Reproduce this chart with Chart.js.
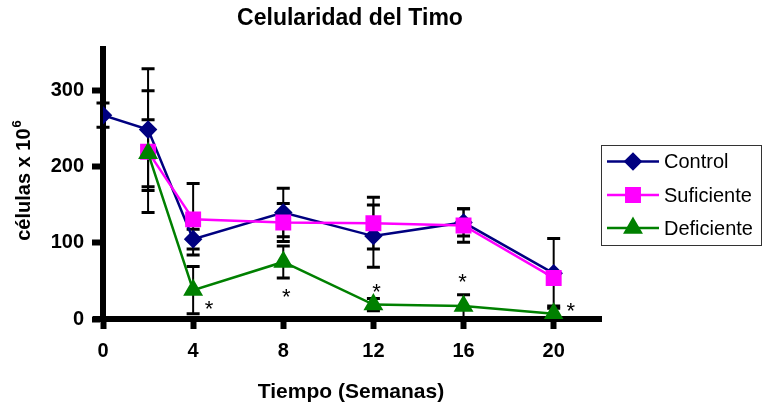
<!DOCTYPE html>
<html>
<head>
<meta charset="utf-8">
<script src="https://cdn.jsdelivr.net/npm/chart.js@4/dist/chart.umd.min.js"></script>
<style>
  html, body { margin: 0; padding: 0; background: #ffffff; }
  #wrap { position: relative; width: 762px; height: 408px; }
</style>
</head>
<body>
<div id="wrap"><canvas id="c"></canvas></div>
<script>
// Thymus cellularity (cells x 10^6) over time, by diet group, with SD bars
const weeks = [0, 2, 4, 8, 12, 16, 20];
const xTickValues = [0, 4, 8, 12, 16, 20];
const yTickValues = [0, 100, 200, 300];

const controlMean = [268, 249, 105, 140, 109, 127, 60];
const controlErr  = [16, 80, 13, 32, 41, 18, 46];
const suficienteMean = [null, 220, 131, 127, 126, 123, 54];
const suficienteErr  = [null, 80, 47, 25, 34, 22, 8];
const deficienteMean = [null, 218, 38, 75, 19, 17, 7];
const deficienteErr  = [null, 44, 31, 21, 8, 15, 10];

// weeks where Deficiente differs significantly (marked with *)
const significantWeeks = [4, 8, 12, 16, 20];

const seriesNames = ['Control', 'Suficiente', 'Deficiente'];

const FONT = '"Liberation Sans", Arial, Helvetica, sans-serif';

function toPoints(values) {
  return weeks.map((w, i) => ({ x: w, y: values[i] }));
}

// where each asterisk sits relative to its Deficiente point
const starOffsets = [[16, 15], [3, 31], [3, -17], [-1, -28], [17, -7]];

const errorBarsPlugin = {
  id: 'errorBars',
  beforeDatasetsDraw(chart) {
    const { ctx, scales: { x, y } } = chart;
    ctx.save();
    ctx.strokeStyle = '#000000';
    chart.data.datasets.forEach(ds => {
      const errs = ds.errors;
      ds.data.forEach((p, i) => {
        if (p.y == null || errs[i] == null) return;
        const px = x.getPixelForValue(p.x);
        const top = y.getPixelForValue(p.y + errs[i]);
        const bot = y.getPixelForValue(Math.max(0, p.y - errs[i]));
        ctx.lineWidth = 2;
        ctx.beginPath();
        ctx.moveTo(px, top);
        ctx.lineTo(px, bot);
        ctx.stroke();
        ctx.lineWidth = 3;
        ctx.beginPath();
        ctx.moveTo(px - 6.5, top); ctx.lineTo(px + 6.5, top);
        ctx.moveTo(px - 6.5, bot); ctx.lineTo(px + 6.5, bot);
        ctx.stroke();
      });
    });
    ctx.restore();
  }
};

const decorPlugin = {
  id: 'decor',
  afterDraw(chart) {
    const { ctx, scales: { x, y }, chartArea } = chart;
    ctx.save();
    ctx.fillStyle = '#000000';

    // x axis line continues a little past the y axis on the left
    ctx.fillRect(chartArea.left - 10, chartArea.bottom - 3, 8, 6);

    // title
    ctx.font = 'bold 23px ' + FONT;
    ctx.textAlign = 'center';
    ctx.textBaseline = 'alphabetic';
    ctx.fillText('Celularidad del Timo', 350, 25);

    // x axis title
    ctx.font = 'bold 21px ' + FONT;
    ctx.fillText('Tiempo (Semanas)', 351, 398);

    // y axis title with superscript
    ctx.save();
    ctx.translate(30, 181);
    ctx.rotate(-Math.PI / 2);
    ctx.font = 'bold 20px ' + FONT;
    const main = 'células x 10';
    const wMain = ctx.measureText(main).width;
    ctx.font = 'bold 13px ' + FONT;
    const wSup = ctx.measureText('6').width;
    const startX = -(wMain + wSup) / 2;
    ctx.textAlign = 'left';
    ctx.font = 'bold 20px ' + FONT;
    ctx.fillText(main, startX, 0);
    ctx.font = 'bold 13px ' + FONT;
    ctx.fillText('6', startX + wMain + 1, -9);
    ctx.restore();

    // significance asterisks
    const defDs = chart.data.datasets[2];
    ctx.font = '22px ' + FONT;
    ctx.textAlign = 'center';
    const m = ctx.measureText('*');
    const asc = m.actualBoundingBoxAscent, desc = m.actualBoundingBoxDescent;
    significantWeeks.forEach((w, k) => {
      const p = defDs.data.find(d => d.x === w);
      if (!p) return;
      const cx = x.getPixelForValue(w) + starOffsets[k][0];
      const cy = y.getPixelForValue(p.y) + starOffsets[k][1];
      ctx.fillText('*', cx, cy + (asc - desc) / 2);
    });

    // legend
    const lx = 601, ly = 145, lw = 160, lh = 100;
    ctx.strokeStyle = '#333333';
    ctx.lineWidth = 1;
    ctx.strokeRect(lx + 0.5, ly + 0.5, lw, lh);
    const rows = [161.5, 195, 228];
    chart.data.datasets.forEach((ds, i) => {
      const ry = rows[i];
      ctx.strokeStyle = ds.borderColor;
      ctx.lineWidth = 2.5;
      ctx.beginPath();
      ctx.moveTo(607, ry);
      ctx.lineTo(659, ry);
      ctx.stroke();
      ctx.fillStyle = ds.pointBackgroundColor;
      ctx.strokeStyle = ds.pointBorderColor;
      Chart.helpers.drawPoint(ctx, {
        pointStyle: ds.pointStyle, radius: ds.pointRadius, borderWidth: 1, rotation: 0
      }, 633, ry);
      ctx.fillStyle = '#000000';
      ctx.font = '20px ' + FONT;
      ctx.textAlign = 'left';
      ctx.textBaseline = 'middle';
      ctx.fillText(seriesNames[i], 664, ry + 1);
    });
    ctx.restore();
  }
};

const axisCommon = {
  border: { display: true, color: '#000000', width: 6 },
  grid: { display: true, drawOnChartArea: false, drawTicks: true, color: '#000000', tickColor: '#000000', tickWidth: 6 },
};

new Chart(document.getElementById('c'), {
  type: 'line',
  data: {
    datasets: [
      {
        label: seriesNames[0], data: toPoints(controlMean), errors: controlErr,
        borderColor: '#000080', backgroundColor: '#000080',
        pointBackgroundColor: '#000080', pointBorderColor: '#000080',
        pointStyle: 'rectRot', pointRadius: 7.5, borderWidth: 2.5, order: 2
      },
      {
        label: seriesNames[1], data: toPoints(suficienteMean), errors: suficienteErr,
        borderColor: '#FF00FF', backgroundColor: '#FF00FF',
        pointBackgroundColor: '#FF00FF', pointBorderColor: '#FF00FF',
        pointStyle: 'rect', pointRadius: 9.5, borderWidth: 2.5, order: 1
      },
      {
        label: seriesNames[2], data: toPoints(deficienteMean), errors: deficienteErr,
        borderColor: '#008000', backgroundColor: '#008000',
        pointBackgroundColor: '#008000', pointBorderColor: '#008000',
        pointStyle: 'triangle', pointRadius: 9, borderWidth: 2.5, order: 0
      }
    ]
  },
  options: {
    responsive: true,
    maintainAspectRatio: false,
    animation: false,
    devicePixelRatio: 1,
    layout: { padding: { top: 49, right: 161, left: 0, bottom: 0 } },
    plugins: { legend: { display: false }, title: { display: false }, tooltip: { enabled: false } },
    elements: { line: { tension: 0 }, point: { borderWidth: 1 } },
    scales: {
      x: {
        type: 'linear', min: 0, max: 22.1,
        ...axisCommon,
        grid: { ...axisCommon.grid, tickLength: 10 },
        ticks: { stepSize: 4, color: '#000000', padding: 10, maxRotation: 0,
                 font: { family: FONT, size: 20, weight: 'bold' } },
        afterBuildTicks(scale) {
          scale.ticks = xTickValues.map(v => ({ value: v }));
        },
        afterFit(scale) { scale.height = 408 - 319; }
      },
      y: {
        type: 'linear', min: 0, max: 355,
        ...axisCommon,
        grid: { ...axisCommon.grid, tickLength: 11 },
        ticks: { stepSize: 100, color: '#000000', padding: 8,
                 font: { family: FONT, size: 20, weight: 'bold' } },
        afterBuildTicks(scale) {
          scale.ticks = yTickValues.map(v => ({ value: v }));
        },
        afterFit(scale) { scale.width = 103; }
      }
    }
  },
  plugins: [errorBarsPlugin, decorPlugin]
});
</script>
</body>
</html>
